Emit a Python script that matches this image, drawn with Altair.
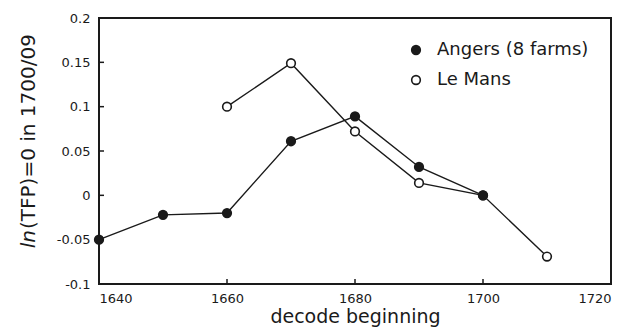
import altair as alt
import pandas as pd

angers_years = [1640, 1650, 1660, 1670, 1680, 1690, 1700]
angers_vals = [-0.050, -0.022, -0.020, 0.061, 0.089, 0.032, 0.000]
lemans_years = [1660, 1670, 1680, 1690, 1700, 1710]
lemans_vals = [0.100, 0.149, 0.072, 0.014, 0.000, -0.069]
series_names = ["Angers (8 farms)", "Le Mans"]
x_ticks = [1640, 1660, 1680, 1700, 1720]
y_ticks = [-0.1, -0.05, 0, 0.05, 0.1, 0.15, 0.2]
x_inner_ticks = [1660, 1680, 1700]
y_inner_ticks = [-0.05, 0, 0.05, 0.1, 0.15]
y_title_italic = "ln"
y_title_rest = "(TFP)=0 in 1700/09"

rows = []
for yr, v in zip(lemans_years, lemans_vals):
    rows.append({"series": series_names[1], "year": yr, "value": v})
for yr, v in zip(angers_years, angers_vals):
    rows.append({"series": series_names[0], "year": yr, "value": v})
df = pd.DataFrame(rows)

FONT = "DejaVu Sans"
INK = "#1a1a1a"
W, H = 512, 266

xs = alt.Scale(domain=[1640, 1720], nice=False, zero=False)
ys = alt.Scale(domain=[-0.1, 0.2], nice=False, zero=False)

x_enc = alt.X("year:Q", scale=xs, axis=alt.Axis(
    values=x_ticks, format="d", title="decode beginning", grid=False,
    ticks=False, domain=False, labelFont=FONT, labelFontSize=13,
    labelColor=INK, labelPadding=8, titleFont=FONT, titleFontSize=19,
    titleFontWeight="normal", titleColor=INK, titlePadding=2))
y_enc = alt.Y("value:Q", scale=ys, axis=alt.Axis(
    values=y_ticks, labelExpr="'' + datum.value", title=None,
    grid=False, ticks=False, domain=False, labelFont=FONT, labelFontSize=13,
    labelColor=INK, labelPadding=9))

lines = alt.Chart(df).mark_line(color=INK, strokeWidth=1.4).encode(
    x=x_enc, y=y_enc, detail="series:N")

points = alt.Chart(df).mark_point(filled=False, size=75, stroke=INK,
                                  strokeWidth=1.6, opacity=1, shape="circle").encode(
    x=alt.X("year:Q", scale=xs),
    y=alt.Y("value:Q", scale=ys),
    fill=alt.Fill("series:N", scale=alt.Scale(domain=series_names, range=[INK, "white"]),
                  legend=alt.Legend(title=None, orient="none", legendX=308, legendY=23,
                                    symbolType="circle", symbolSize=75,
                                    symbolStrokeColor=INK, symbolStrokeWidth=1.6,
                                    labelFont=FONT, labelFontSize=18, labelColor=INK,
                                    labelOffset=12, rowPadding=12, padding=0)),
)

one = pd.DataFrame({"a": [0]})
def edge(x1, x2, y1, y2):
    return alt.Chart(one).mark_rule(color=INK, strokeWidth=2, strokeCap="square").encode(
        x=alt.value(x1), x2=alt.value(x2), y=alt.value(y1), y2=alt.value(y2))
frame = [edge(0, W, 0, 0), edge(0, W, H, H), edge(0, 0, 0, H), edge(W, W, 0, H)]

xt = alt.Chart(pd.DataFrame({"t": x_inner_ticks})).mark_rule(color=INK, strokeWidth=1.5).encode(
    x=alt.X("t:Q", scale=xs), y=alt.value(H - 5), y2=alt.value(H))
yt = alt.Chart(pd.DataFrame({"t": y_inner_ticks})).mark_rule(color=INK, strokeWidth=1.5).encode(
    y=alt.Y("t:Q", scale=ys), x=alt.value(0), x2=alt.value(5))

t_italic = alt.Chart(pd.DataFrame({"s": [y_title_italic]})).mark_text(
    angle=270, align="right", baseline="alphabetic", font=FONT, fontSize=20,
    fontStyle="italic", color=INK).encode(
    text="s:N", x=alt.value(-64), y=alt.value(212))
t_rest = alt.Chart(pd.DataFrame({"s": [y_title_rest]})).mark_text(
    angle=270, align="left", baseline="alphabetic", font=FONT, fontSize=20,
    color=INK).encode(
    text="s:N", x=alt.value(-64), y=alt.value(211))

chart = alt.layer(*frame, xt, yt, lines, points, t_italic, t_rest).properties(
    width=W, height=H,
    background="white",
    autosize=alt.AutoSizeParams(type="none"),
    padding={"left": 91, "top": 10, "right": 8, "bottom": 48},
).configure_view(strokeWidth=0)

chart.save("out.html", embed_options={"renderer": "svg", "actions": False})
